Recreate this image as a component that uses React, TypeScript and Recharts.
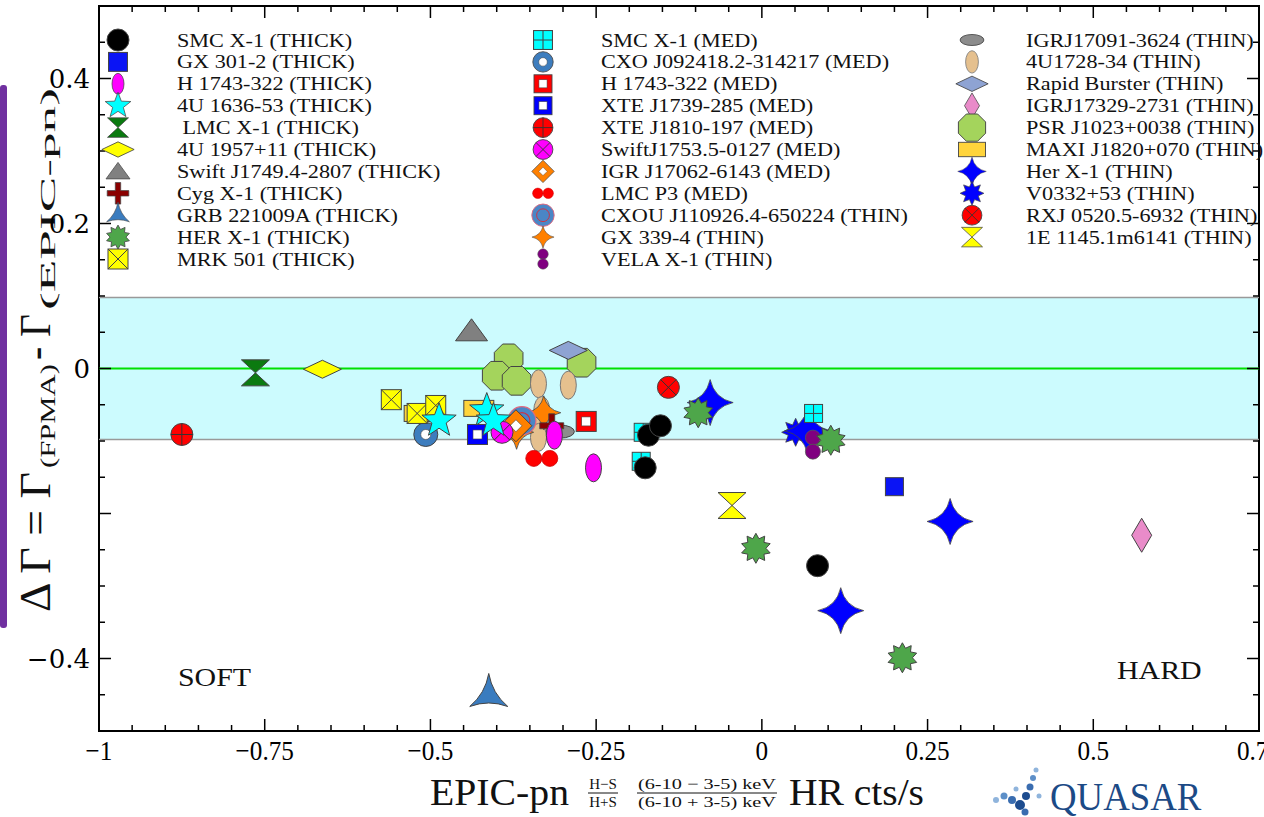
import React from 'react';
import { ScatterChart, Scatter, XAxis, YAxis, ReferenceArea, ReferenceLine, Legend, Customized } from 'recharts';

// ---------------- layout constants ----------------
const W = 1264;
const H = 817;
const PLOT_LEFT = 99;
const PLOT_RIGHT = 1259;
const PLOT_TOP = 6;
const PLOT_BOTTOM = 731;
const X_AXIS_H = 40;
const Y_AXIS_W = 60;
const MARGIN = { top: PLOT_TOP, right: W - PLOT_RIGHT, bottom: H - PLOT_BOTTOM - X_AXIS_H, left: PLOT_LEFT - Y_AXIS_W };
const SERIF = 'Liberation Serif, Times New Roman, serif';

// ---------------- axis ticks ----------------
const X_TICKS = [-1, -0.95, -0.9, -0.85, -0.8, -0.75, -0.7, -0.65, -0.6, -0.55, -0.5, -0.45, -0.4, -0.35, -0.3, -0.25, -0.2, -0.15, -0.1, -0.05, 0, 0.05, 0.1, 0.15, 0.2, 0.25, 0.3, 0.35, 0.4, 0.45, 0.5, 0.55, 0.6, 0.65, 0.7, 0.75];
const X_MAJOR = [-1, -0.75, -0.5, -0.25, 0, 0.25, 0.5, 0.75];
const X_LABELS = ['\u22121', '\u22120.75', '\u22120.5', '\u22120.25', '0', '0.25', '0.5', '0.75'];
const Y_TICKS = [-0.5, -0.45, -0.4, -0.35, -0.3, -0.25, -0.2, -0.15, -0.1, -0.05, 0, 0.05, 0.1, 0.15, 0.2, 0.25, 0.3, 0.35, 0.4, 0.45, 0.5];
const Y_MAJOR = [-0.4, -0.2, 0, 0.2, 0.4];
const Y_LABEL_VALUES = [0.4, 0.2, 0, -0.4];
const Y_LABELS = ['0.4', '0.2', '0', '\u22120.4'];
const BAND = [-0.098, 0.098];

// ---------------- data ----------------
const SMC_X1_THICK = [{ x: -0.171, y: -0.092 }, { x: -0.153, y: -0.079 }, { x: -0.176, y: -0.137 }, { x: 0.084, y: -0.272 }];
const GX_301_2_THICK = [{ x: 0.2, y: -0.163 }];
const H1743_THICK = [{ x: -0.313, y: -0.092 }, { x: -0.254, y: -0.137 }];
const U1636_THICK = [{ x: -0.487, y: -0.072 }, { x: -0.415, y: -0.058 }, { x: -0.405, y: -0.072 }];
const LMC_X1_THICK = [{ x: -0.764, y: -0.006 }];
const U1957_THICK = [{ x: -0.663, y: -0.001 }];
const SWIFT_J1749_THICK = [{ x: -0.438, y: 0.052 }];
const CYG_X1_THICK = [{ x: -0.317, y: -0.079 }];
const GRB_221009A_THICK = [{ x: -0.412, y: -0.451 }];
const HER_X1_THICK = [{ x: -0.096, y: -0.061 }, { x: 0.104, y: -0.099 }, { x: -0.009, y: -0.248 }, { x: 0.212, y: -0.399 }];
const MRK_501_THICK = [{ x: -0.559, y: -0.043 }, { x: -0.52, y: -0.062 }, { x: -0.492, y: -0.051 }];

const SMC_X1_MED = [{ x: 0.078, y: -0.062 }, { x: -0.179, y: -0.088 }, { x: -0.182, y: -0.128 }];
const CXO_J0924_MED = [{ x: -0.507, y: -0.091 }];
const H1743_MED = [{ x: -0.265, y: -0.073 }];
const XTE_J1739_MED = [{ x: -0.429, y: -0.091 }];
const XTE_J1810_MED = [{ x: -0.875, y: -0.091 }];
const SWIFT_J1753_MED = [{ x: -0.392, y: -0.088 }];
const IGR_J17062_MED = [{ x: -0.371, y: -0.079 }];
const LMC_P3_MED = [{ x: -0.332, y: -0.124 }];
const CXOU_J1109_THIN = [{ x: -0.362, y: -0.072 }];
const GX_339_4_THIN = [{ x: -0.37, y: -0.088 }, { x: -0.329, y: -0.061 }];
const VELA_X1_THIN = [{ x: 0.077, y: -0.105 }];

const IGRJ17091_THIN = [{ x: -0.304, y: -0.087 }];
const U1728_THIN = [{ x: -0.337, y: -0.021 }, { x: -0.292, y: -0.023 }, { x: -0.332, y: -0.058 }, { x: -0.337, y: -0.081 }, { x: -0.337, y: -0.095 }];
const RAPID_BURSTER_THIN = [{ x: -0.292, y: 0.025 }];
const IGRJ17329_THIN = [{ x: 0.573, y: -0.23 }];
const PSR_J1023_THIN = [{ x: -0.382, y: 0.014 }, { x: -0.4, y: -0.01 }, { x: -0.37, y: -0.017 }, { x: -0.272, y: 0.008 }];
const MAXI_J1820_THIN = [{ x: -0.517, y: -0.062 }, { x: -0.427, y: -0.055 }];
const HER_X1_THIN = [{ x: -0.078, y: -0.047 }, { x: 0.069, y: -0.086 }, { x: 0.284, y: -0.211 }, { x: 0.119, y: -0.334 }];
const V0332_THIN = [{ x: 0.051, y: -0.088 }];
const RXJ0520_THIN = [{ x: -0.141, y: -0.026 }];
const E1145_THIN = [{ x: -0.045, y: -0.189 }];

type Pt = { x: number; y: number };
type Series = { name: string; data: Pt[]; kind: string; fill: string; ls: number };

// ls = legend marker scale
const SERIES: Series[] = [
  { name: 'SMC X-1 (THICK)', data: SMC_X1_THICK, kind: 'circle', fill: '#000000', ls: 1 },
  { name: 'GX 301-2 (THICK)', data: GX_301_2_THICK, kind: 'square', fill: '#0a14f5', ls: 1.05 },
  { name: 'H 1743-322 (THICK)', data: H1743_THICK, kind: 'ellipseTall', fill: '#ff00ff', ls: 0.75 },
  { name: '4U 1636-53 (THICK)', data: U1636_THICK, kind: 'star5', fill: '#00ffff', ls: 0.75 },
  { name: ' LMC X-1 (THICK)', data: LMC_X1_THICK, kind: 'hourglass', fill: '#0b7a10', ls: 0.75 },
  { name: '4U 1957+11 (THICK)', data: U1957_THICK, kind: 'diamondWide', fill: '#ffff00', ls: 0.85 },
  { name: 'Swift J1749.4-2807 (THICK)', data: SWIFT_J1749_THICK, kind: 'triangle', fill: '#808080', ls: 0.75 },
  { name: 'Cyg X-1 (THICK)', data: CYG_X1_THICK, kind: 'plus', fill: '#8b0000', ls: 0.9 },
  { name: 'GRB 221009A (THICK)', data: GRB_221009A_THICK, kind: 'tripod', fill: '#3a7cbf', ls: 0.6 },
  { name: 'HER X-1 (THICK)', data: HER_X1_THICK, kind: 'star10', fill: '#4ea64a', ls: 0.8 },
  { name: 'MRK 501 (THICK)', data: MRK_501_THICK, kind: 'boxX', fill: '#ffff00', ls: 1 },
  { name: 'SMC X-1 (MED)', data: SMC_X1_MED, kind: 'boxPlus', fill: '#00ffff', ls: 1.05 },
  { name: 'CXO J092418.2-314217 (MED)', data: CXO_J0924_MED, kind: 'ring', fill: '#3d7dbe', ls: 0.85 },
  { name: 'H 1743-322 (MED)', data: H1743_MED, kind: 'squareHollow', fill: '#ff0000', ls: 0.9 },
  { name: 'XTE J1739-285 (MED)', data: XTE_J1739_MED, kind: 'squareHollow', fill: '#0000ff', ls: 0.9 },
  { name: 'XTE J1810-197 (MED)', data: XTE_J1810_MED, kind: 'circlePlus', fill: '#ff0000', ls: 0.9 },
  { name: 'SwiftJ1753.5-0127 (MED)', data: SWIFT_J1753_MED, kind: 'circleX', fill: '#ff00ff', ls: 0.9 },
  { name: 'IGR J17062-6143 (MED)', data: IGR_J17062_MED, kind: 'diamondHollow', fill: '#ff8000', ls: 0.7 },
  { name: 'LMC P3 (MED)', data: LMC_P3_MED, kind: 'doubleH', fill: '#ff0000', ls: 0.65 },
  { name: 'CXOU J110926.4-650224 (THIN)', data: CXOU_J1109_THIN, kind: 'circleRing', fill: '#4a86c6', ls: 0.8 },
  { name: 'GX 339-4 (THIN)', data: GX_339_4_THIN, kind: 'star4', fill: '#ff8000', ls: 0.65 },
  { name: 'VELA X-1 (THIN)', data: VELA_X1_THIN, kind: 'doubleV', fill: '#800080', ls: 0.7 },
  { name: 'IGRJ17091-3624 (THIN)', data: IGRJ17091_THIN, kind: 'ellipseWide', fill: '#8c8c8c', ls: 0.85 },
  { name: '4U1728-34 (THIN)', data: U1728_THIN, kind: 'ellipseTan', fill: '#e5c08e', ls: 0.8 },
  { name: 'Rapid Burster (THIN)', data: RAPID_BURSTER_THIN, kind: 'diamondWide', fill: '#8ea3d3', ls: 0.85 },
  { name: 'IGRJ17329-2731 (THIN)', data: IGRJ17329_THIN, kind: 'diamondTall', fill: '#e98bc9', ls: 0.75 },
  { name: 'PSR J1023+0038 (THIN)', data: PSR_J1023_THIN, kind: 'octagon', fill: '#a4d45c', ls: 0.95 },
  { name: 'MAXI J1820+070 (THIN)', data: MAXI_J1820_THIN, kind: 'rect', fill: '#ffd43b', ls: 0.9 },
  { name: 'Her X-1 (THIN)', data: HER_X1_THIN, kind: 'star4big', fill: '#0000ff', ls: 0.62 },
  { name: 'V0332+53 (THIN)', data: V0332_THIN, kind: 'star8', fill: '#0000ff', ls: 0.85 },
  { name: 'RXJ 0520.5-6932 (THIN)', data: RXJ0520_THIN, kind: 'circleX', fill: '#ff0000', ls: 0.9 },
  { name: '1E 1145.1m6141 (THIN)', data: E1145_THIN, kind: 'hourglass', fill: '#ffff00', ls: 0.75 },
];
// drawing order: later legend entries lie underneath
const DRAW_ORDER = SERIES.slice().reverse();

// ---------------- marker shapes ----------------
function starPts(n: number, R: number, r: number, rot = -Math.PI / 2) {
  const pts: string[] = [];
  for (let i = 0; i < 2 * n; i++) {
    const a = rot + (i * Math.PI) / n;
    const rad = i % 2 === 0 ? R : r;
    pts.push(`${(rad * Math.cos(a)).toFixed(2)},${(rad * Math.sin(a)).toFixed(2)}`);
  }
  return pts.join(' ');
}
function polyPts(n: number, R: number, rot: number) {
  const pts: string[] = [];
  for (let i = 0; i < n; i++) {
    const a = rot + (i * 2 * Math.PI) / n;
    pts.push(`${(R * Math.cos(a)).toFixed(2)},${(R * Math.sin(a)).toFixed(2)}`);
  }
  return pts.join(' ');
}
function star4Path(r: number) {
  const k = r * 0.18;
  return `M0,${-r} Q${k},${-k} ${r},0 Q${k},${k} 0,${r} Q${-k},${k} ${-r},0 Q${-k},${-k} 0,${-r} Z`;
}

const ST = '#444444';

function Shape({ kind, fill }: { kind: string; fill: string }) {
  switch (kind) {
    case 'circle':
      return <circle r={11} fill={fill} stroke={ST} strokeWidth={1} />;
    case 'square':
      return <rect x={-9} y={-9} width={18} height={18} fill={fill} stroke={ST} strokeWidth={1} />;
    case 'ellipseTall':
      return <ellipse rx={8} ry={14} fill={fill} stroke={ST} strokeWidth={1} />;
    case 'star5':
      return <polygon points={starPts(5, 18, 7.5)} fill={fill} stroke={ST} strokeWidth={1} />;
    case 'hourglass':
      return <path d="M-14,-13 L14,-13 L0,0 Z M0,0 L14,13 L-14,13 Z" fill={fill} stroke={ST} strokeWidth={1} strokeLinejoin="round" />;
    case 'diamondWide':
      return <polygon points="0,-9 19,0 0,9 -19,0" fill={fill} stroke={ST} strokeWidth={1} />;
    case 'triangle':
      return <polygon points="0,-12 16,10 -16,10" fill={fill} stroke={ST} strokeWidth={1} />;
    case 'plus':
      return <path d="M-3,-12 H3 V-3 H12 V3 H3 V12 H-3 V3 H-12 V-3 H-3 Z" fill={fill} stroke={ST} strokeWidth={0.8} />;
    case 'tripod':
      return <path d="M0,-22 Q3.5,-2 19,11 Q0,4 -19,11 Q-3.5,-2 0,-22 Z" fill={fill} stroke={ST} strokeWidth={1} />;
    case 'star10':
      return <polygon points={starPts(10, 15, 10)} fill={fill} stroke={ST} strokeWidth={1} />;
    case 'boxX':
      return (
        <g>
          <rect x={-10} y={-10} width={20} height={20} fill={fill} stroke={ST} strokeWidth={1} />
          <path d="M-10,-10 L10,10 M10,-10 L-10,10" stroke={ST} strokeWidth={1} />
        </g>
      );
    case 'boxPlus':
      return (
        <g>
          <rect x={-9} y={-9} width={18} height={18} fill={fill} stroke={ST} strokeWidth={1} />
          <path d="M0,-9 V9 M-9,0 H9" stroke={ST} strokeWidth={1} />
        </g>
      );
    case 'ring':
      return (
        <g>
          <circle r={12} fill={fill} stroke={ST} strokeWidth={1} />
          <circle r={5} fill="#ffffff" stroke={ST} strokeWidth={0.6} />
        </g>
      );
    case 'squareHollow':
      return (
        <g>
          <rect x={-10} y={-10} width={20} height={20} fill={fill} stroke={ST} strokeWidth={1} />
          <rect x={-4.5} y={-4.5} width={9} height={9} fill="#ffffff" stroke={ST} strokeWidth={0.6} />
        </g>
      );
    case 'circlePlus':
      return (
        <g>
          <circle r={11} fill={fill} stroke={ST} strokeWidth={1} />
          <path d="M0,-11 V11 M-11,0 H11" stroke="#333" strokeWidth={1} />
        </g>
      );
    case 'circleX':
      return (
        <g>
          <circle r={11} fill={fill} stroke={ST} strokeWidth={1} />
          <path d="M-7.8,-7.8 L7.8,7.8 M7.8,-7.8 L-7.8,7.8" stroke="#333" strokeWidth={1} />
        </g>
      );
    case 'diamondHollow':
      return (
        <g>
          <polygon points="0,-16 16,0 0,16 -16,0" fill={fill} stroke={ST} strokeWidth={1} />
          <polygon points="0,-6 6,0 0,6 -6,0" fill="#ffffff" stroke={ST} strokeWidth={0.6} />
        </g>
      );
    case 'doubleH':
      return (
        <g>
          <circle cx={-8} r={8} fill={fill} stroke="#cc0000" strokeWidth={0.8} />
          <circle cx={8} r={8} fill={fill} stroke="#cc0000" strokeWidth={0.8} />
        </g>
      );
    case 'circleRing':
      return (
        <g>
          <circle r={14} fill={fill} stroke="#e06a80" strokeWidth={1.2} />
          <circle r={8} fill="none" stroke="#d03040" strokeWidth={1.2} />
        </g>
      );
    case 'star4':
      return <path d={star4Path(17)} fill={fill} stroke={ST} strokeWidth={0.8} />;
    case 'doubleV':
      return (
        <g>
          <circle cy={-7} r={7.5} fill={fill} stroke="#555" strokeWidth={0.8} />
          <circle cy={7} r={7.5} fill={fill} stroke="#555" strokeWidth={0.8} />
        </g>
      );
    case 'ellipseWide':
      return <ellipse rx={14} ry={6.5} fill={fill} stroke={ST} strokeWidth={1} />;
    case 'ellipseTan':
      return <ellipse rx={8} ry={14} fill={fill} stroke="#777" strokeWidth={1} />;
    case 'diamondTall':
      return <polygon points="0,-17 10,0 0,17 -10,0" fill={fill} stroke={ST} strokeWidth={1} />;
    case 'octagon':
      return <polygon points={polyPts(8, 15.5, Math.PI / 8)} fill={fill} stroke={ST} strokeWidth={1} />;
    case 'rect':
      return <rect x={-15} y={-8} width={30} height={16} fill={fill} stroke={ST} strokeWidth={1} />;
    case 'star4big':
      return <path d={star4Path(23)} fill={fill} stroke={ST} strokeWidth={0.8} />;
    case 'star8':
      return <polygon points={starPts(8, 14, 8)} fill={fill} stroke={ST} strokeWidth={0.8} />;
    default:
      return <circle r={8} fill={fill} />;
  }
}

function Marker({ kind, fill, cx, cy, s = 1 }: { kind: string; fill: string; cx: number; cy: number; s?: number }) {
  if (cx == null || cy == null || isNaN(cx) || isNaN(cy)) return null;
  return (
    <g transform={`translate(${cx},${cy}) scale(${s})`}>
      <Shape kind={kind} fill={fill} />
    </g>
  );
}

// ---------------- axis tick renderers ----------------
const near = (a: number, b: number) => Math.abs(a - b) < 1e-6;

function XTick(props: any) {
  const { x, payload } = props;
  const v = payload.value;
  const mi = X_MAJOR.findIndex((m) => near(m, v));
  const len = mi >= 0 ? 12 : 6;
  return (
    <g>
      <line x1={x} x2={x} y1={PLOT_BOTTOM} y2={PLOT_BOTTOM - len} stroke="#000" strokeWidth={1.5} />
      <line x1={x} x2={x} y1={PLOT_TOP} y2={PLOT_TOP + len} stroke="#000" strokeWidth={1.5} />
      {mi >= 0 && (
        <text transform={`translate(${x},${PLOT_BOTTOM + 29}) scale(0.9,1)`} textAnchor="middle" fontFamily={SERIF} fontSize={28} fill="#000">
          {X_LABELS[mi]}
        </text>
      )}
    </g>
  );
}

function YTick(props: any) {
  const { y, payload } = props;
  const v = payload.value;
  const major = Y_MAJOR.some((m) => near(m, v));
  const li = Y_LABEL_VALUES.findIndex((m) => near(m, v));
  const len = major ? 12 : 6;
  return (
    <g>
      <line x1={PLOT_LEFT} x2={PLOT_LEFT + len} y1={y} y2={y} stroke="#000" strokeWidth={1.5} />
      <line x1={PLOT_RIGHT} x2={PLOT_RIGHT - len} y1={y} y2={y} stroke="#000" strokeWidth={1.5} />
      {li >= 0 && (
        <text x={90} y={y + 9} textAnchor="end" fontFamily="DejaVu Serif, serif" fontSize={26} fill="#000">
          {Y_LABELS[li]}
        </text>
      )}
    </g>
  );
}

// ---------------- legend ----------------
const LEG_COLS = [
  { mx: 118, tx: 177, items: SERIES.slice(0, 11) },
  { mx: 543, tx: 601, items: SERIES.slice(11, 22) },
  { mx: 972, tx: 1026, items: SERIES.slice(22) },
];
const LEG_Y0 = 40;
const LEG_DY = 21.9;

function LegendContent() {
  return (
    <svg width={W} height={280} style={{ display: 'block', overflow: 'visible' }}>
      {LEG_COLS.map((col, ci) =>
        col.items.map((s, i) => {
          const cy = LEG_Y0 + i * LEG_DY;
          return (
            <g key={`${ci}-${i}`}>
              <Marker kind={s.kind} fill={s.fill} cx={col.mx} cy={cy} s={s.ls} />
              <text
                transform={`translate(${col.tx},${cy + 6.5}) scale(1.17,1)`}
                fontFamily={SERIF}
                fontSize={19}
                fill="#111"
                style={{ whiteSpace: 'pre' }}
              >
                {s.name}
              </text>
            </g>
          );
        })
      )}
    </svg>
  );
}

// ---------------- decorations ----------------
const LOGO_DOTS = [
  { x: 996, y: 800, r: 3, c: '#8fb4dc' },
  { x: 1004, y: 796, r: 3.5, c: '#5d8fc8' },
  { x: 1012, y: 800, r: 4, c: '#3a6db0' },
  { x: 1020, y: 805, r: 5, c: '#1d4c8f' },
  { x: 1026, y: 796, r: 4, c: '#1d4c8f' },
  { x: 1030, y: 787, r: 3.5, c: '#3a6db0' },
  { x: 1033, y: 778, r: 3, c: '#5d8fc8' },
  { x: 1036, y: 770, r: 2.5, c: '#8fb4dc' },
  { x: 1025, y: 812, r: 3.5, c: '#3a6db0' },
  { x: 1039, y: 796, r: 2.5, c: '#8fb4dc' },
  { x: 1016, y: 789, r: 2.5, c: '#8fb4dc' },
];

function YTitle() {
  // pieces placed along the rotated axis (screen y where each piece starts, its length)
  const main = { fontFamily: SERIF, fontSize: 44, fill: '#111' };
  const sub = { fontFamily: SERIF, fontSize: 22, fill: '#111' };
  return (
    <g>
      <text transform="translate(50,612) rotate(-90)" {...main} textLength={140} lengthAdjust="spacingAndGlyphs">
        {'\u0394 \u0393 = \u0393'}
      </text>
      <text transform="translate(55,468) rotate(-90)" {...sub} textLength={104} lengthAdjust="spacingAndGlyphs">
        (FPMA)
      </text>
      <text transform="translate(50,360) rotate(-90)" {...main} textLength={46} lengthAdjust="spacingAndGlyphs">
        {'- \u0393'}
      </text>
      <text transform="translate(55,310) rotate(-90)" {...sub} textLength={222} lengthAdjust="spacingAndGlyphs">
        (EPIC-pn)
      </text>
    </g>
  );
}

function Decorations() {
  return (
    <g>
      <rect x={0} y={85} width={7} height={543} rx={3} fill="#7030a0" />
      <YTitle />
      {/* x axis title */}
      <text x={430} y={805} fontFamily={SERIF} fontSize={38} fill="#111" textLength={139} lengthAdjust="spacingAndGlyphs">EPIC-pn</text>
      <text x={603} y={789} textAnchor="middle" fontFamily={SERIF} fontSize={15} fill="#111">{'H\u2212S'}</text>
      <line x1={588} x2={618} y1={793} y2={793} stroke="#111" strokeWidth={1} />
      <text x={603} y={807} textAnchor="middle" fontFamily={SERIF} fontSize={15} fill="#111">H+S</text>
      <text x={707} y={789} textAnchor="middle" fontFamily={SERIF} fontSize={15} fill="#111" textLength={138} lengthAdjust="spacingAndGlyphs">{'(6-10 \u2212 3-5) keV'}</text>
      <line x1={637} x2={777} y1={793} y2={793} stroke="#111" strokeWidth={1} />
      <text x={707} y={807} textAnchor="middle" fontFamily={SERIF} fontSize={15} fill="#111" textLength={138} lengthAdjust="spacingAndGlyphs">(6-10 + 3-5) keV</text>
      <text x={789} y={805} fontFamily={SERIF} fontSize={38} fill="#111" textLength={135} lengthAdjust="spacingAndGlyphs">HR cts/s</text>
      {/* region labels */}
      <text transform="translate(178,686) scale(1.15,1)" fontFamily={SERIF} fontSize={26} fill="#111">SOFT</text>
      <text transform="translate(1117,679) scale(1.15,1)" fontFamily={SERIF} fontSize={26} fill="#111">HARD</text>
      {/* logo */}
      {LOGO_DOTS.map((d, i) => (
        <circle key={i} cx={d.x} cy={d.y} r={d.r} fill={d.c} />
      ))}
      <text transform="translate(1050,810) scale(0.92,1)" fontFamily={SERIF} fontSize={40} fill="#1c4a86">QUASAR</text>
    </g>
  );
}

export default function App() {
  return (
    <div style={{ position: 'absolute', left: 0, top: 0, width: W, height: H, background: '#ffffff' }}>
      <ScatterChart width={W} height={H} margin={MARGIN}>
        <XAxis
          dataKey="x"
          type="number"
          domain={[-1, 0.75]}
          ticks={X_TICKS}
          interval={0}
          allowDataOverflow
          axisLine={false}
          tickLine={false}
          height={X_AXIS_H}
          tick={(p: any) => <XTick {...p} />}
        />
        <YAxis
          dataKey="y"
          type="number"
          domain={[-0.5, 0.5]}
          ticks={Y_TICKS}
          interval={0}
          allowDataOverflow
          axisLine={false}
          tickLine={false}
          width={Y_AXIS_W}
          tick={(p: any) => <YTick {...p} />}
        />
        <ReferenceArea x1={-1} x2={0.75} y1={BAND[0]} y2={BAND[1]} fill="#ccfbfe" fillOpacity={1} stroke="none" />
        <ReferenceLine y={BAND[1]} stroke="#999999" strokeWidth={1.5} />
        <ReferenceLine y={BAND[0]} stroke="#999999" strokeWidth={1.5} />
        <ReferenceLine y={0} stroke="#00e000" strokeWidth={2} />
        <ReferenceArea x1={-1} x2={0.75} y1={-0.5} y2={0.5} fill="none" stroke="#000" strokeWidth={2} />
        {DRAW_ORDER.map((s) => (
          <Scatter
            key={s.name}
            name={s.name}
            data={s.data}
            isAnimationActive={false}
            shape={(p: any) => <Marker kind={s.kind} fill={s.fill} cx={p.cx} cy={p.cy} />}
          />
        ))}
        <Legend
          layout="vertical"
          align="center"
          verticalAlign="middle"
          wrapperStyle={{ position: 'absolute', left: 0, top: 0, width: W, height: 280, pointerEvents: 'none' }}
          content={() => <LegendContent />}
        />
        <Customized component={() => <Decorations />} />
      </ScatterChart>
    </div>
  );
}
